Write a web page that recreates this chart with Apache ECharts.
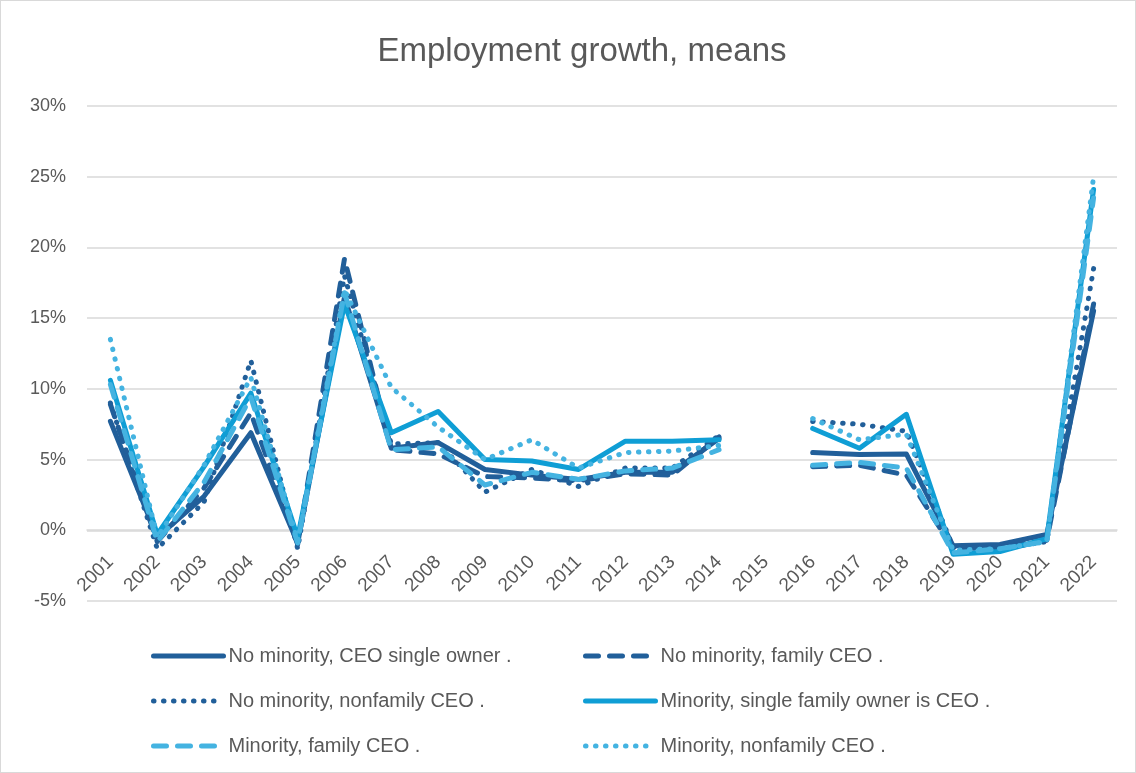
<!DOCTYPE html>
<html>
<head>
<meta charset="utf-8">
<title>Employment growth, means</title>
<script src="https://cdn.jsdelivr.net/npm/echarts@6/dist/echarts.min.js"></script>
<style>
  html, body { margin: 0; padding: 0; background: #fff; }
  #main { width: 1136px; height: 773px; box-sizing: border-box; border: 1px solid #d9d9d9; }
</style>
</head>
<body>
<div id="main"></div>
<script>
// years on the x axis (2015 has no data)
var years = ['2001', '2002', '2003', '2004', '2005', '2006', '2007', '2008', '2009', '2010', '2011',
  '2012', '2013', '2014', '2015', '2016', '2017', '2018', '2019', '2020', '2021', '2022'];

// y axis ticks, in percent
var yMin = -5;
var yMax = 30;
var yStep = 5;

var names = [
  'No minority, CEO single owner .',
  'No minority, family CEO .',
  'No minority, nonfamily CEO .',
  'Minority, single family owner is CEO .',
  'Minority, family CEO .',
  'Minority, nonfamily CEO .'
];

// mean employment growth, %
var noMinCeoSingle = [7.7, -0.5, 2.4, 6.9, -0.9, 16.5, 5.8, 6.2, 4.3, 3.9, 3.6, 4.1, 4.1, 6.5, null, 5.5, 5.35, 5.4, -1.1, -1.0, -0.3, 15.5];
var noMinFamilyCeo = [8.9, -0.8, 3.0, 8.3, -1.0, 19.2, 5.7, 5.4, 3.8, 3.7, 3.5, 4.0, 3.9, 6.6, null, 4.5, 4.6, 3.9, -1.3, -1.2, -0.7, 16.0];
var noMinNonfamilyCeo = [9.0, -1.3, 2.0, 12.0, -1.3, 18.0, 6.1, 6.2, 2.7, 4.3, 3.1, 4.4, 4.4, 6.7, null, 7.7, 7.5, 7.0, -1.2, -1.3, -0.8, 18.5];
var minSingleOwnerCeo = [10.6, -0.3, 4.5, 9.7, -0.5, 16.0, 6.9, 8.4, 5.0, 4.9, 4.3, 6.3, 6.3, 6.4, null, 7.2, 5.8, 8.2, -1.7, -1.5, -0.6, 24.1];
var minFamilyCeo = [10.3, -0.8, 3.4, 9.4, -0.9, 16.8, 5.7, 5.9, 3.2, 4.1, 3.6, 4.2, 4.4, 5.7, null, 4.6, 4.8, 4.4, -1.6, -1.3, -0.8, 23.5];
var minNonfamilyCeo = [13.5, -0.5, 4.6, 10.8, -0.8, 17.0, 10.1, 7.3, 5.0, 6.4, 4.4, 5.5, 5.6, 6.0, null, 7.9, 6.4, 6.8, -1.4, -1.3, -0.8, 25.0];

var darkBlue = '#215f9a';
var brightBlue = '#0f9ed5';
var lightBlue = '#44b3e1';
var textColor = '#595959';
var font = '"Liberation Sans", Arial, sans-serif';

var dashType = [13, 11];
var dotType = [0.5, 9.5];

var gridTop = 105;
var gridBottom = 171;
var chartHeight = 773;

function makeLine(name, data, color, type) {
  return {
    name: name,
    type: 'line',
    data: data,
    symbol: 'none',
    showSymbol: false,
    connectNulls: false,
    lineStyle: {
      color: color,
      width: 5,
      type: type,
      cap: 'round',
      join: 'round'
    },
    // transparent so the legend shows only the line, no marker
    itemStyle: { color: 'rgba(0,0,0,0)', borderWidth: 0 }
  };
}

function getOption() {
  var legendText = { color: textColor, fontSize: 20, fontFamily: font };
  var legendLine = { width: 5, cap: 'round' };
  // move the category labels up so they sit under the 0% line, like Excel
  var plotHeight = chartHeight - gridTop - gridBottom;
  var zeroOffset = -(0 - yMin) / (yMax - yMin) * plotHeight;
  var option = {
    backgroundColor: '#fff',
    animation: false,
    title: {
      text: 'Employment growth, means',
      left: 576,
      textAlign: 'center',
      top: 29,
      textStyle: { color: textColor, fontSize: 33, fontWeight: 'normal', fontFamily: font }
    },
    legend: [{
      orient: 'vertical',
      left: 150,
      top: 645,
      padding: 0,
      itemWidth: 70,
      itemHeight: 20,
      itemGap: 25,
      lineStyle: legendLine,
      textStyle: legendText,
      data: [names[0], names[2], names[4]]
    }, {
      orient: 'vertical',
      left: 582,
      top: 645,
      padding: 0,
      itemWidth: 70,
      itemHeight: 20,
      itemGap: 25,
      lineStyle: legendLine,
      textStyle: legendText,
      data: [names[1], names[3], names[5]]
    }],
    grid: {
      left: 86,
      right: 18,
      top: gridTop,
      bottom: gridBottom,
      containLabel: false
    },
    xAxis: {
      type: 'category',
      data: years,
      boundaryGap: true,
      offset: zeroOffset,
      axisLine: { show: true, onZero: false, lineStyle: { color: '#d9d9d9', width: 1.5 } },
      axisTick: { show: false },
      axisLabel: {
        interval: 0,
        rotate: 45,
        margin: 29,
        color: textColor,
        fontSize: 19,
        fontFamily: font
      },
      splitLine: { show: false }
    },
    yAxis: {
      type: 'value',
      min: yMin,
      max: yMax,
      interval: yStep,
      axisLine: { show: false },
      axisTick: { show: false },
      axisLabel: {
        formatter: '{value}%',
        margin: 21,
        color: textColor,
        fontSize: 18,
        fontFamily: font
      },
      splitLine: { lineStyle: { color: '#d9d9d9', width: 1.5 } }
    },
    series: [
      makeLine(names[0], noMinCeoSingle, darkBlue, 'solid'),
      makeLine(names[1], noMinFamilyCeo, darkBlue, dashType),
      makeLine(names[2], noMinNonfamilyCeo, darkBlue, dotType),
      makeLine(names[3], minSingleOwnerCeo, brightBlue, 'solid'),
      makeLine(names[4], minFamilyCeo, lightBlue, dashType),
      makeLine(names[5], minNonfamilyCeo, lightBlue, dotType)
    ]
  };
  return option;
}

var chart = echarts.init(document.getElementById('main'));
chart.setOption(getOption());
</script>
</body>
</html>
